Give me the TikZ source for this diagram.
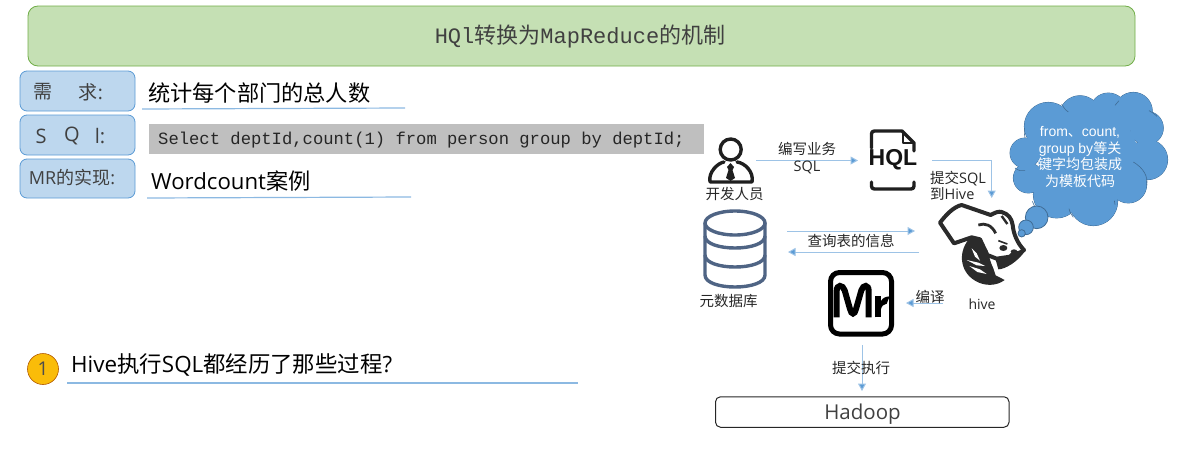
\documentclass[tikz,border=0pt]{standalone}
\usepackage{fontspec}
\usetikzlibrary{arrows.meta}
\setmainfont{Open Sans}
\newfontfamily\cjk{Noto Sans CJK SC}
\newfontfamily\monof{Liberation Mono}
\newfontfamily\arialf{Liberation Sans}
\newcommand{\cj}[1]{{\cjk #1}}
\newcommand{\px}[2]{\fontsize{#1}{#2}\selectfont}
\definecolor{blueA}{HTML}{5B9BD5}
\definecolor{blueL}{HTML}{9DC3E6}
\definecolor{boxB}{HTML}{BDD7EE}
\definecolor{greenF}{HTML}{C5E0B4}
\definecolor{greenE}{HTML}{70AD47}
\definecolor{dbcol}{HTML}{4F6484}
\definecolor{hivek}{HTML}{2B2B2B}
\tikzset{
  labelbox/.style={draw=blueA,fill=boxB,rounded corners=7pt,line width=0.8pt},
  labeltxt/.style={inner sep=0pt,text=black!75,font=\px{19}{22}},
  bigtxt/.style={inner sep=0pt,anchor=west,text=black,font=\px{22.2}{28}},
  small/.style={inner sep=0pt,align=center,text=black!85,font=\px{14.5}{16.5}},
  flow/.style={draw=blueL,line width=1pt,-{Triangle[length=7.5pt,width=8pt,fill=blueA]}},
  uline/.style={draw=blueA!70,line width=1.2pt},
  bump/.style={draw=blueA!70!black,line width=0.8pt,fill=blueA},
  bumpf/.style={fill=blueA},
  iconline/.style={draw=black!88,line width=3.4pt,line cap=round,line join=round}
}
\begin{document}
\begin{tikzpicture}[x=1pt,y=-1pt]
\useasboundingbox (0,0) rectangle (1182,458);
% title
\node[draw=greenE,fill=greenF,rounded corners=10pt,line width=0.8pt,minimum width=1107pt,minimum height=60pt,inner sep=0pt] (title) at (581.5,36) {};
\node[inner sep=0pt,text=black!75,font=\px{22}{26}] (titletxt) at (580,36) {\monof HQl\cj{转换为}MapReduce\cj{的机制}};
% left labels
\node[labelbox,minimum width=115pt,minimum height=40pt,inner sep=0pt] (b1) at (77.5,91) {};
\node[labelbox,minimum width=115pt,minimum height=40pt,inner sep=0pt] (b2) at (77.5,135) {};
\node[labelbox,minimum width=115pt,minimum height=39pt,inner sep=0pt] (b3) at (77.5,178.5) {};
\node[labeltxt] (b1a) at (43,92) {\cj{需}};
\node[labeltxt] (b1b) at (91,92) {\cj{求}:};
\node[labeltxt,font=\px{20}{24}] (b2a) at (41,136) {S};
\node[labeltxt,font=\px{20}{24}] (b2b) at (72,136) {Q};
\node[labeltxt,font=\px{20}{24}] (b2c) at (100,136) {l:};
\node[labeltxt,font=\px{18}{22}] (b3a) at (72,178) {MR\cj{的实现}:};
% left texts
\node[bigtxt] (t1) at (148,93) {\cj{统计每个部门的总人数}};
\fill[black!25] (149,124) rectangle (704,154);
\node[inner sep=0pt,anchor=west,text=black!85,font=\px{17.2}{20}] (t2) at (158,140) {\monof Select deptId,count(1) from person group by deptId;};
\node[bigtxt] (t3) at (151,181) {Wordcount\cj{案例}};
\draw[uline] (142,109) -- (405,108);
\draw[uline] (147,198) -- (411,197);
% question
\node[circle,draw=orange!70!black,line width=0.6pt,fill=yellow!50!orange,minimum size=31pt,inner sep=0pt,text=black!70,font=\px{19}{22}] (num) at (43,369) {1};
\node[bigtxt,font=\px{22.4}{28}] (q) at (71,365) {Hive\cj{执行}SQL\cj{都经历了那些过程}?};
\draw[draw=blueA!70,line width=1.2pt] (67,383) -- (578,383);
% person icon
\node[circle,draw=black!88,line width=3.4pt,minimum size=21pt,inner sep=0pt] (head) at (730.7,149.5) {};
\draw[iconline] (710,182) .. controls (708,172) and (718,163) .. (724,162) (737,162) .. controls (745,163) and (754,172) .. (752,182) -- (710,182);
\fill[black!88] (730.5,163) -- (734,167) -- (732.5,170) -- (735,178) -- (730.5,181) -- (726,178) -- (728.5,170) -- (727,167) -- cycle;
\node[small] (dev) at (734.5,194) {\cj{开发人员}};
% HQL icon
\draw[iconline] (871.5,148) -- (871.5,134) .. controls (871.5,132) and (872.5,131) .. (874.5,131) -- (902,131) -- (914,143) -- (914,151);
\draw[draw=black!88,line width=2.6pt,line join=round] (903,131) -- (903,143) -- (914,143);
\draw[iconline] (871.5,182) -- (871.5,186) .. controls (871.5,188) and (872.5,189) .. (874.5,189) -- (911,189) .. controls (913,189) and (914,188) .. (914,186) -- (914,182);
\node[inner sep=0pt,text=black!92,font=\px{23}{26}] (hql) at (893,160) {\arialf\bfseries HQL};
% database
\begin{scope}[draw=dbcol,line width=3.4pt]
\draw (735,223) ellipse [x radius=30,y radius=12];
\draw (705,223) -- (705,275) .. controls (705,291) and (765,291) .. (765,275) -- (765,223);
\draw (705,236) .. controls (705,252) and (765,252) .. (765,236);
\draw (705,255) .. controls (705,271) and (765,271) .. (765,255);
\end{scope}
\node[small] (db) at (728.5,301) {\cj{元数据库}};
% Mr icon
\draw[draw=black,line width=5pt,rounded corners=9pt] (830.5,272.5) rectangle (891.5,334);
\begin{scope}[shift={(820,265)},scale=1/3]
\draw[draw=black,line width=6pt] (50,157) -- (50,78) .. controls (50,58) and (68,58) .. (74,76) -- (90,132) .. controls (94,150) and (104,150) .. (108,132) -- (124,76) .. controls (130,58) and (146,58) .. (146,78) -- (146,157);
\draw[draw=black,line width=6pt] (174,157) -- (174,92);
\fill[black] (183,108) .. controls (188,98) and (198,95) .. (209,94) -- (200,116) .. controls (192,118) and (185,122) .. (183,132) -- cycle;
\end{scope}
% Hadoop
\node[draw=black!85,line width=1pt,rounded corners=5pt,minimum width=293.5pt,minimum height=30.5pt,inner sep=0pt] (hadoop) at (862.25,412) {};
\node[inner sep=0pt,text=black!75,font=\px{20.5}{26}] (hadooptxt) at (862.5,414) {Hadoop};
% hive icon
\begin{scope}[shift={(930,200)},scale=1/3]
\draw[draw=hivek,line width=4pt,fill=white,line join=round] (30,68) .. controls (45,48) and (70,20) .. (95,15) -- (182,45) .. controls (195,38) and (205,33) .. (215,36) .. controls (235,42) and (245,55) .. (248,75) .. controls (250,100) and (262,130) .. (282,150) .. controls (265,165) and (245,158) .. (240,170) -- (200,176) -- (172,165) -- (150,118) -- (125,112) -- (72,130) -- cycle;
\fill[hivek] (122,112) .. controls (85,148) and (85,212) .. (135,242) .. controls (165,260) and (200,258) .. (224,240) -- (197,226) -- (190,205) .. controls (182,190) and (178,170) .. (172,150) -- (148,120) -- cycle;
\fill[white] (110,180) -- (145,188) -- (165,198) -- (140,196) -- cycle;
\fill[white] (118,198) -- (150,208) -- (170,222) -- (142,216) -- cycle;
\fill[white] (125,145) -- (140,160) -- (150,182) -- (135,170) -- cycle;
\fill[hivek] (195,172) -- (205,208) .. controls (225,208) and (265,185) .. (287,150) .. controls (268,165) and (250,160) .. (238,170) -- cycle;
\draw[draw=hivek,line width=2.8pt] (145,75) .. controls (165,68) and (185,75) .. (197,100);
\draw[draw=hivek,line width=2.4pt] (215,48) -- (232,72);
\draw[draw=hivek,line width=1.6pt] (205,122) -- (232,132);
\fill[hivek] (220,144) ellipse [x radius=12,y radius=9];
\fill[hivek] (252,155) ellipse [x radius=10,y radius=7];
\end{scope}
\node[small,font=\px{14}{16.5}] (hive) at (982,304) {hive};
% cloud
\begin{scope}[shift={(1005,88)},scale=1/3]
\foreach \cx/\cy/\r in {130/115/72,225/85/62,310/70/55,385/70/57,425/120/50,428/215/60,370/290/55,265/340/73,155/320/70,70/270/45,60/195/45}{
  \draw[bump] (\cx,\cy) circle [radius=\r];
}
\foreach \cx/\cy/\r in {130/115/72,225/85/62,310/70/55,385/70/57,425/120/50,428/215/60,370/290/55,265/340/73,155/320/70,70/270/45,60/195/45}{
  \fill[bumpf] (\cx,\cy) circle [radius=\r];
}
\fill[bumpf] (250,210) circle [radius=150];
\draw[draw=blueA!70!black,line width=0.6pt] (385,222) .. controls (415,240) and (430,265) .. (425,292);
\draw[draw=blueA!70!black,line width=0.6pt] (170,48) .. controls (175,58) and (180,65) .. (190,72);
\draw[draw=blueA!70!black,line width=0.6pt] (330,52) -- (342,38);
\draw[draw=blueA!70!black,line width=0.6pt] (432,68) .. controls (440,72) and (450,78) .. (456,85);
\draw[draw=blueA!70!black,line width=0.6pt] (60,150) .. controls (58,140) and (57,130) .. (58,120);
\draw[draw=blueA!70!black,line width=0.6pt] (30,240) .. controls (40,248) and (50,250) .. (60,248);
\draw[draw=blueA!70!black,line width=0.6pt] (82,340) .. controls (84,350) and (90,358) .. (100,365);
\draw[draw=blueA!70!black,line width=0.6pt] (192,362) .. controls (195,375) and (200,380) .. (205,388);
\draw[draw=blueA!70!black,line width=0.6pt] (330,350) .. controls (330,345) and (330,342) .. (328,338);
\draw[bump] (95,388) circle [radius=34];
\draw[bump] (63,418) circle [radius=22];
\draw[bump] (50,436) circle [radius=11];
\end{scope}
\node[inner sep=0pt,text=white,align=center,font=\px{14}{16.5}] (cloudtxt) at (1080,157) {\arialf from\cj{、}count,\\\arialf group by\cj{等关}\\\cj{键字均包装成}\\\cj{为模板代码}};
% connector coordinates
\coordinate (a1s) at (756,160.5); \coordinate (a1e) at (858,160.5);
\coordinate (a2s) at (932,160); \coordinate (a2c) at (991.7,160); \coordinate (a2e) at (991.7,198);
\coordinate (a3s) at (787,231); \coordinate (a3e) at (915,231);
\coordinate (a4s) at (919,252); \coordinate (a4e) at (788,252);
\coordinate (a5s) at (943,303); \coordinate (a5e) at (906,303);
\coordinate (a6s) at (862,345); \coordinate (a6e) at (862,391);
\draw[flow] (a1s) -- (a1e);
\draw[flow] (a2s) -- (a2c) -- (a2e);
\draw[flow] (a3s) -- (a3e);
\draw[flow] (a4s) -- (a4e);
\draw[flow] (a5s) -- (a5e);
\draw[flow] (a6s) -- (a6e);
% connector labels
\node[small] (l1) at (807,158) {\cj{编写业务}\\SQL};
\node[small,align=left] (l2) at (958,186) {\cj{提交}SQL\\\cj{到}Hive};
\node[small] (l3) at (851,241) {\cj{查询表的信息}};
\node[small] (l4) at (930,297) {\cj{编译}};
\node[small] (l5) at (861,368) {\cj{提交执行}};
\end{tikzpicture}
\end{document}
